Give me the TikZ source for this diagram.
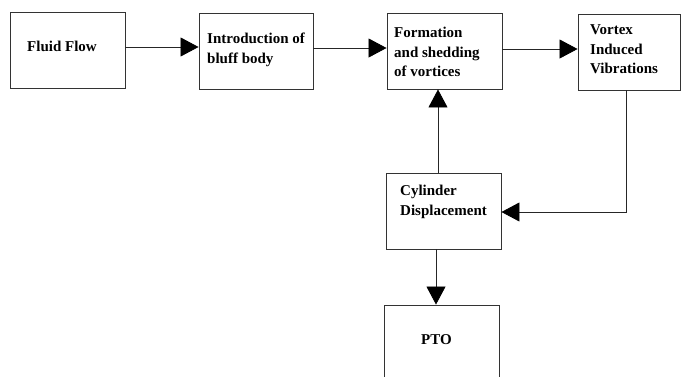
\documentclass[tikz,border=0pt]{standalone}
\usepackage{fontspec}
\setmainfont{Liberation Serif}
\usetikzlibrary{arrows.meta}
\begin{document}
\begin{tikzpicture}[x=1pt,y=-1pt,
  box/.style={draw=black!80,line width=0.9pt,fill=white,inner sep=0pt,minimum width=115pt,minimum height=76pt},
  lbl/.style={anchor=west,align=left,inner sep=0pt,font=\fontsize{15}{19.5}\selectfont\bfseries},
  conn/.style={draw=black!85,line width=0.8pt,-{Triangle[length=18pt,width=19pt,color=black]}}]
\useasboundingbox (0,0) rectangle (682,376);
\fill[white] (0,0) rectangle (682,376);
% boxes
\node[box] (b1) at (67.5,50) {};
\node[box,minimum width=114pt] (b2) at (256,51) {};
\node[box] (b3) at (444.5,51) {};
\node[box,minimum width=102pt] (b4) at (629,52) {};
\node[box] (b5) at (443.5,211) {};
\node[box,minimum height=90pt] (b6) at (441.5,350) {};
% texts
\node[lbl] (t1) at (27,46) {Fluid Flow};
\node[lbl] (t2) at (207,50) {Introduction of\\bluff body};
\node[lbl] (t3) at (394,52) {Formation\\and shedding\\of vortices};
\node[lbl] (t4) at (590,49.5) {Vortex\\Induced\\Vibrations};
\node[lbl] (t5) at (400,202) {Cylinder\\Displacement};
\node[lbl] (t6) at (421,340) {PTO};
% connectors
\draw[conn] (b1.east |- 0,47) -- (b2.west |- 0,47);
\draw[conn] (b2.east |- 0,48) -- (b3.west |- 0,48);
\draw[conn] (b3.east |- 0,49) -- (b4.west |- 0,49);
\draw[conn] (b4.south -| 626,0) |- (b5.east |- 0,212);
\draw[conn] (b5.north -| 438,0) -- (b3.south -| 438,0);
\draw[conn] (b5.south -| 436,0) -- (b6.north -| 436,0);
\end{tikzpicture}
\end{document}
